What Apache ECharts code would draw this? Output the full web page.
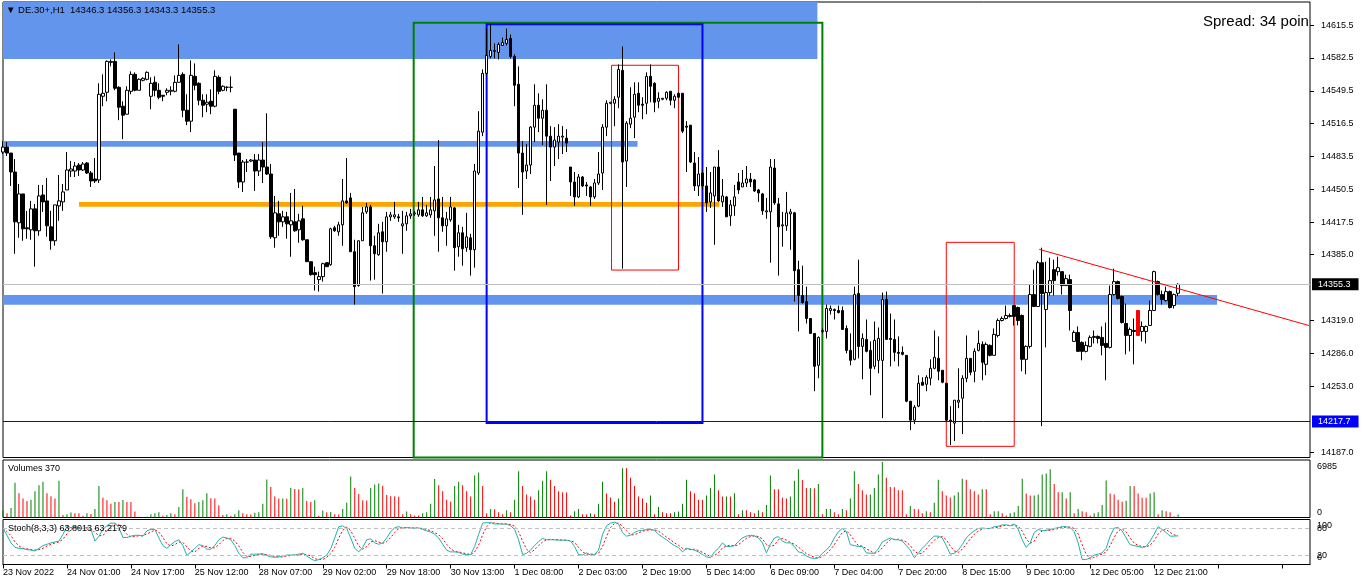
<!DOCTYPE html>
<html><head><meta charset="utf-8">
<script src="https://cdn.jsdelivr.net/npm/echarts@6/dist/echarts.min.js"></script>
<style>html,body{margin:0;padding:0;background:#fff}#c{width:1362px;height:585px}</style>
</head><body><div id="c"></div>
<script>
const symbolName = 'DE.30+';
const timeframe = 'H1';
const spreadText = 'Spread: 34 poin';
const openP = [
14488,14493,14487,14468,14417,14446,14412,14410,14431,14409,14445,14439,14413,14399,14434,14438,14450,14469,14469,14475,
14470,14477,14467,14461,14460,14544,14548,14578,14579,14553,14534,14526,14549,14566,14550,14560,14561,14544,14558,14550,
14545,14548,14549,14549,14558,14566,14530,14519,14564,14557,14540,14536,14539,14534,14563,14550,14553,14553,14531,14487,
14458,14478,14479,14480,14469,14480,14473,14466,14402,14426,14418,14423,14415,14418,14410,14421,14400,14378,14367,14360,
14363,14377,14375,14412,14408,14415,14439,14442,14388,14354,14399,14428,14433,14394,14385,14408,14398,14423,14423,14423,
14414,14416,14424,14426,14425,14430,14424,14425,14429,14441,14422,14414,14420,14432,14393,14407,14392,14402,14390,14467,
14508,14567,14584,14589,14588,14595,14597,14602,14584,14556,14487,14469,14475,14513,14535,14522,14530,14504,14493,14498,
14503,14502,14473,14458,14443,14463,14455,14453,14443,14457,14467,14513,14537,14537,14543,14570,14479,14516,14523,14547,
14536,14537,14564,14557,14539,14541,14542,14549,14540,14547,14547,14514,14515,14477,14454,14467,14454,14438,14444,14473,
14438,14443,14424,14434,14458,14453,14457,14461,14460,14450,14446,14428,14428,14472,14436,14414,14414,14426,14427,14370,
14344,14338,14321,14306,14274,14308,14308,14329,14330,14329,14329,14311,14289,14280,14346,14293,14300,14289,14273,14279,
14279,14340,14301,14300,14287,14287,14284,14238,14219,14233,14257,14255,14261,14271,14281,14269,14256,14219,14216,14237,
14241,14261,14281,14268,14289,14295,14275,14294,14284,14304,14319,14321,14323,14334,14332,14324,14280,14293,14345,14333,
14377,14330,14347,14370,14368,14368,14354,14360,14298,14307,14297,14288,14293,14302,14303,14302,14296,14292,14345,14358,
14343,14316,14304,14309,14329,14308,14308,14314,14329,14358,14345,14339,14348,14334,14346.3];
const highP = [
14499,14498,14487,14481,14456,14446,14429,14439,14436,14455,14455,14462,14429,14435,14465,14456,14488,14479,14478,14477,
14478,14478,14469,14482,14557,14566,14580,14581,14588,14554,14539,14554,14569,14568,14562,14563,14569,14563,14564,14557,
14545,14552,14554,14565,14596,14568,14546,14580,14577,14558,14546,14546,14551,14570,14565,14555,14554,14564,14531,14487,
14480,14481,14481,14486,14486,14498,14527,14476,14444,14439,14429,14428,14447,14451,14426,14434,14400,14378,14373,14368,
14377,14377,14412,14414,14418,14461,14482,14447,14400,14399,14433,14437,14435,14404,14416,14418,14428,14428,14438,14426,
14429,14428,14431,14429,14438,14443,14435,14443,14474,14500,14443,14428,14443,14433,14415,14413,14427,14406,14476,14529,
14571,14612,14616,14597,14598,14603,14612,14606,14586,14574,14499,14496,14514,14556,14547,14541,14556,14514,14513,14516,
14514,14511,14473,14468,14466,14464,14458,14454,14461,14488,14516,14540,14538,14544,14576,14594,14519,14553,14558,14558,
14543,14568,14576,14558,14548,14542,14549,14549,14546,14548,14547,14519,14515,14488,14483,14470,14473,14468,14473,14490,
14461,14444,14440,14455,14467,14470,14474,14467,14461,14451,14447,14442,14481,14481,14442,14428,14448,14431,14428,14379,
14374,14353,14321,14306,14303,14311,14335,14334,14331,14334,14333,14314,14306,14353,14380,14306,14320,14298,14318,14312,
14347,14348,14326,14320,14303,14293,14284,14238,14234,14264,14262,14264,14280,14309,14303,14269,14256,14233,14239,14271,
14264,14304,14281,14291,14309,14298,14297,14295,14311,14321,14323,14334,14326,14334,14333,14325,14294,14355,14370,14379,
14392,14378,14382,14380,14383,14368,14365,14365,14309,14313,14298,14298,14304,14309,14304,14313,14317,14354,14371,14359,
14344,14336,14312,14321,14329,14318,14314,14339,14369,14359,14349,14353,14349,14346,14356.3];
const lowP = [
14486,14484,14454,14386,14402,14399,14401,14400,14373,14404,14428,14403,14390,14394,14419,14429,14450,14463,14463,14464,
14469,14466,14453,14457,14457,14534,14539,14574,14550,14520,14501,14526,14546,14549,14550,14559,14560,14531,14544,14541,
14539,14545,14545,14548,14558,14523,14515,14508,14550,14535,14523,14528,14526,14533,14546,14549,14549,14548,14479,14452,
14448,14468,14478,14449,14464,14457,14465,14401,14392,14404,14413,14401,14383,14408,14397,14399,14378,14364,14349,14348,
14358,14373,14374,14408,14404,14394,14436,14388,14335,14353,14399,14426,14359,14360,14384,14346,14388,14419,14421,14418,
14386,14409,14421,14424,14423,14423,14423,14422,14404,14388,14408,14394,14418,14369,14383,14374,14388,14364,14372,14465,
14504,14565,14582,14582,14581,14595,14595,14582,14534,14452,14425,14461,14466,14498,14508,14495,14435,14459,14474,14481,
14486,14488,14444,14434,14442,14453,14444,14434,14441,14455,14450,14504,14536,14514,14532,14371,14453,14512,14502,14528,
14521,14526,14538,14528,14532,14540,14540,14535,14532,14542,14507,14468,14477,14449,14444,14450,14428,14432,14395,14438,
14433,14423,14414,14424,14446,14453,14453,14453,14448,14438,14425,14421,14377,14435,14364,14393,14409,14390,14338,14308,
14336,14316,14306,14248,14261,14306,14301,14325,14320,14326,14310,14286,14274,14279,14281,14260,14287,14244,14270,14266,
14221,14300,14273,14278,14273,14284,14237,14209,14215,14232,14254,14248,14254,14270,14259,14256,14217,14194,14198,14231,
14205,14257,14264,14257,14288,14259,14264,14283,14284,14302,14318,14320,14322,14314,14314,14268,14265,14291,14333,14333,
14213,14292,14344,14344,14364,14345,14354,14309,14298,14288,14279,14287,14292,14296,14296,14284,14259,14291,14344,14340,
14316,14285,14288,14275,14304,14298,14296,14314,14329,14344,14335,14338,14331,14331,14343.3];
const closeP = [
14493,14487,14468,14418,14446,14411,14411,14431,14409,14444,14438,14414,14399,14435,14439,14448,14470,14471,14474,14470,
14476,14467,14459,14459,14546,14547,14579,14579,14552,14533,14525,14550,14566,14550,14561,14562,14568,14557,14550,14543,
14544,14550,14550,14558,14565,14530,14519,14565,14555,14540,14535,14538,14534,14564,14549,14554,14553,14553,14485,14458,
14478,14478,14480,14469,14480,14473,14466,14403,14427,14418,14423,14416,14419,14409,14419,14400,14378,14365,14365,14363,
14376,14373,14411,14409,14415,14439,14437,14388,14353,14399,14427,14433,14394,14386,14407,14398,14423,14425,14425,14422,
14416,14424,14426,14427,14430,14424,14427,14430,14440,14422,14414,14421,14433,14392,14407,14391,14403,14390,14469,14509,
14567,14585,14590,14590,14596,14598,14601,14584,14555,14487,14468,14475,14513,14535,14522,14530,14504,14493,14500,14504,
14504,14497,14458,14443,14463,14454,14454,14443,14457,14466,14513,14537,14538,14541,14571,14478,14517,14522,14546,14535,
14535,14564,14554,14538,14542,14542,14548,14540,14544,14543,14509,14513,14478,14454,14466,14454,14437,14447,14473,14439,
14444,14423,14435,14443,14450,14457,14461,14458,14449,14447,14429,14429,14473,14437,14413,14415,14427,14428,14369,14344,
14337,14321,14306,14273,14302,14309,14331,14331,14329,14327,14310,14289,14279,14345,14293,14301,14288,14271,14299,14301,
14340,14300,14300,14287,14286,14285,14238,14219,14232,14256,14254,14262,14271,14282,14268,14257,14219,14218,14239,14239,
14261,14281,14267,14288,14296,14277,14295,14284,14305,14319,14321,14324,14324,14323,14319,14280,14293,14345,14333,14377,
14346,14347,14359,14359,14372,14354,14361,14329,14307,14288,14288,14294,14302,14303,14301,14294,14292,14345,14358,14341,
14317,14304,14310,14308,14304,14313,14313,14329,14368,14345,14340,14348,14332,14345,14355.3];
const volumes = [
880,530,1190,4360,3040,2380,2070,2240,3300,4050,4490,3040,2680,2380,4620,300,400,620,530,530,
220,530,440,1060,3960,2500,2160,1720,1940,1940,2200,1940,1940,750,100,50,90,400,530,660,
220,310,530,400,1320,3560,2600,2290,1800,1940,2160,3040,2420,2380,1540,300,400,200,400,920,
530,400,390,600,660,1720,4800,3830,2640,2380,2400,2350,3700,3600,3550,3700,2070,1940,2160,220,
880,660,700,400,380,1060,1850,5150,3700,2950,2160,2150,3700,4140,4270,4000,2820,2680,2670,2600,
400,750,400,260,250,530,660,1720,4840,4050,3300,2240,1980,3960,4490,4050,3300,2640,5280,5680,
3960,530,1060,1050,660,400,920,660,2240,5810,3960,2900,2640,2240,3430,4620,5810,4750,3960,3300,
3170,3160,260,790,1060,400,390,530,400,1720,4490,3030,2510,1980,2380,6200,6190,5020,3960,2640,
2380,1850,2770,400,1320,660,530,520,660,750,1720,4750,3300,3040,2240,2230,2770,3700,5410,3430,
2640,2650,2640,3040,400,920,910,660,530,920,660,1580,5280,3560,3550,2500,2380,2640,4620,6070,
4710,3700,3710,3690,4220,400,1060,1070,660,400,1060,920,2380,5810,4220,3430,2900,2910,3700,5410,
6985,5020,3830,3820,3430,3420,400,1450,1060,1050,530,790,660,1850,4750,3300,2770,2510,2770,3170,
4880,4750,3560,3300,2900,3560,3550,400,790,800,530,260,530,660,1450,4880,3030,2770,2780,2900,
5410,5540,6070,4220,3170,3180,2380,3170,530,1060,790,660,260,530,660,1580,4660,3030,2900,2240,
1980,2110,3960,3950,3030,2500,2490,3030,3170,400,920,790,660,130,370];
const stochK = [
80,65,48,38,36,35,33,32,30,36,42,45,48,50,52,67,85,82,84,80,
80,82,78,52,63,78,86,92,92,82,60,60,63,65,65,63,75,78,78,59,
42,36,44,51,55,42,20,28,36,44,42,34,34,42,55,61,59,55,42,25,
15,15,23,23,23,24,20,17,16,17,19,21,21,21,23,25,19,13,8,11,
15,21,35,59,84,86,80,59,36,28,38,55,57,48,45,48,59,73,82,84,
81,82,81,81,81,78,75,72,67,59,45,32,28,28,27,23,22,22,40,67,
92,93,93,90,90,90,90,86,78,55,22,25,32,42,51,58,55,55,55,54,
54,54,52,40,22,21,26,21,22,32,67,86,92,94,90,71,63,65,71,75,
76,78,78,76,67,61,55,48,42,38,28,36,34,32,28,22,17,15,28,36,
48,40,40,42,51,59,63,65,63,59,48,26,45,59,62,52,48,48,40,28,
26,19,15,13,15,25,32,42,59,73,80,73,44,42,40,40,26,25,25,35,
50,55,59,55,55,52,42,32,15,25,36,45,55,63,63,59,42,23,25,32,
44,59,68,75,80,81,80,80,84,85,88,88,86,90,78,55,38,48,71,78,
75,76,78,80,82,84,84,82,73,48,11,11,15,21,23,26,36,63,81,82,
75,59,44,42,40,38,40,52,67,84,78,71,63,63,63.8013];
const stochD = [
80,73,64,50,41,36,35,33,32,33,36,41,45,48,50,56,68,78,84,82,
80,81,80,71,64,64,76,85,90,89,78,67,61,62,64,64,68,72,77,72,
60,46,41,44,50,49,39,30,28,36,41,40,37,37,44,53,58,58,52,41,
27,18,18,20,23,23,22,20,18,17,17,19,20,21,22,23,22,19,13,11,
11,16,24,38,59,76,83,75,58,41,34,40,50,53,50,47,51,60,71,80,
82,82,81,81,81,80,78,75,71,66,57,45,35,29,28,26,24,22,28,43,
66,84,93,92,91,90,90,89,85,73,52,34,26,33,42,50,55,56,55,55,
54,54,53,49,38,28,23,23,23,25,40,62,82,91,92,85,75,66,66,70,
74,76,77,77,74,68,61,55,48,43,36,34,33,34,31,27,22,18,20,26,
37,41,43,41,44,51,58,62,64,62,57,44,40,43,55,58,54,49,45,39,
31,24,20,16,14,18,24,33,44,58,71,75,66,53,42,41,35,30,25,28,
37,47,55,56,56,54,50,42,30,24,25,35,45,54,60,62,55,41,30,27,
34,45,57,67,74,79,80,80,81,83,86,87,87,88,85,74,57,47,52,66,
75,76,76,78,80,82,83,83,80,68,44,23,12,16,20,23,28,42,60,75,
79,72,59,48,42,40,39,43,53,68,76,78,71,66,63.2179];
const tickLabels = ['23 Nov 2022','24 Nov 01:00','24 Nov 17:00','25 Nov 12:00','28 Nov 07:00','29 Nov 02:00','29 Nov 18:00','30 Nov 13:00','1 Dec 08:00','2 Dec 03:00','2 Dec 19:00','5 Dec 14:00','6 Dec 09:00','7 Dec 04:00','7 Dec 20:00','8 Dec 15:00','9 Dec 10:00','12 Dec 05:00','12 Dec 21:00'];
const priceTicks = [14615.5,14582.5,14549.5,14516.5,14483.5,14450.5,14417.5,14385.0,14319.0,14286.0,14253.0,14187.0];
const volumeTopTick = [6985];
const volumeBottomTick = [0];
const stochLevels = [80, 20];
const stochEdgeTicks = [100, 0];
const currentPrice = 14355.3;
const blueLevel = 14217.7;
const redBarIndex = 284;
const labelEvery = 16;

// drawing objects (in bar-index / price units)
const yMin = 14181.5, yMax = 14638.6;
const bands = [
  {x:[0,203.75], y:[14581.4,yMax], color:'#6495ED'},
  {x:[0,158.75], y:[14493.4,14499.1], color:'#6495ED'},
  {x:[19,179.25], y:[14433.2,14437.9], color:'#FFA500'},
  {x:[0,303.75], y:[14334.8,14344.6], color:'#6495ED'}
];
const boxes = [
  {x:[102.75,205], y:[yMin,14617.8], color:'#008000', w:2},
  {x:[121,175], y:[14216.1,14616.2], color:'#0000FF', w:2},
  {x:[152.25,169], y:[14369.6,14575.1], color:'#FF0000', w:1},
  {x:[236,253], y:[14192.7,14397.4], color:'#FF0000', w:1}
];
const trendLine = [[259.25,14390.4],[326.75,14313.9]];

const SLOTS = 328;
const FONT = "'Liberation Sans','DejaVu Sans',sans-serif";
const GREEN = '#008000', RED = '#FF0000';
const N = openP.length;
const cats = Array.from({length: SLOTS}, (_, i) => String(i));

const candleData = openP.map((o, i) => {
  const v = [o, closeP[i], lowP[i], highP[i]];
  return i === redBarIndex ? {value: v, itemStyle: {color: RED, color0: RED, borderColor: RED, borderColor0: RED}} : v;
});
const volData = volumes.map((v, i) => ({value: v, itemStyle: {color: (i === 0 || v > volumes[i - 1]) ? GREEN : RED}}));

const gridBase = {left: 3, right: 52, show: true, borderColor: '#000', borderWidth: 1, backgroundColor: '#fff'};
const catAxis = (gi, showLabels) => ({
  type: 'category', gridIndex: gi, data: cats, boundaryGap: false,
  axisLine: {show: showLabels, lineStyle: {color: '#000'}},
  axisTick: {show: showLabels, interval: labelEvery - 1, length: 4, lineStyle: {color: '#000'}},
  axisLabel: {show: showLabels, interval: labelEvery - 1, align: 'left', margin: 4, fontSize: 9, color: '#000', fontFamily: FONT,
    formatter: (v, idx) => tickLabels[Math.round(idx / labelEvery)] || ''},
  splitLine: {show: false}
});
const sideAxis = (gi, min, max, label, tick) => ({
  type: 'value', gridIndex: gi, position: 'right', min: min, max: max,
  axisLine: {show: false, onZero: false}, splitLine: {show: false},
  axisTick: tick || {show: false},
  axisLabel: Object.assign({fontSize: 9, color: '#000', fontFamily: FONT, formatter: v => String(v)}, label)
});

const header = '\u25BC ' + symbolName + ',' + timeframe + '  ' + [openP[N-1], highP[N-1], lowP[N-1], closeP[N-1]].map(v => v.toFixed(1)).join(' ');

const option = {
  animation: false,
  backgroundColor: '#fff',
  textStyle: {fontFamily: FONT},
  grid: [
    Object.assign({top: 2, height: 455.5}, gridBase),
    Object.assign({top: 460, height: 57.5}, gridBase),
    Object.assign({top: 519.5, height: 45}, gridBase)
  ],
  xAxis: [
    catAxis(0, false), catAxis(1, false), catAxis(2, true),
    {type: 'value', gridIndex: 0, min: 0, max: SLOTS - 1, show: false, axisLine: {onZero: false}}
  ],
  yAxis: [
    sideAxis(0, yMin, yMax, {customValues: priceTicks, margin: 11, formatter: v => Number(v).toFixed(1)},
      {show: true, length: 4, customValues: priceTicks, lineStyle: {color: '#000'}}),
    sideAxis(1, 0, 7240, {customValues: volumeTopTick, verticalAlign: 'top', margin: 7}),
    sideAxis(1, 0, 7240, {customValues: volumeBottomTick, verticalAlign: 'bottom', margin: 7}),
    sideAxis(2, 0, 100, {customValues: stochLevels, margin: 7}),
    sideAxis(2, 0, 100, {customValues: stochEdgeTicks, margin: 7,
      formatter: v => (v >= 50 ? '{t|' + v + '}' : '{b|' + v + '}'),
      rich: {t: {padding: [13, 0, 0, 0], fontSize: 9, color: '#000'}, b: {padding: [0, 0, 13, 0], fontSize: 9, color: '#000'}}})
  ],
  series: [
    {type: 'line', xAxisIndex: 3, yAxisIndex: 0, data: [], silent: true, z: 1,
      markArea: {silent: true, data: bands.map(b => [{coord: [b.x[0], b.y[0]], itemStyle: {color: b.color, opacity: 1}}, {coord: [b.x[1], b.y[1]]}])},
      markLine: {silent: true, symbol: ['none', 'none'], animation: false, data: [
        {yAxis: currentPrice, lineStyle: {color: '#C0C0C0', width: 1, type: 'solid'},
          label: {show: true, position: 'end', distance: 2, formatter: currentPrice.toFixed(1), backgroundColor: '#000', color: '#fff', padding: [2, 8, 1, 6], fontSize: 9, fontFamily: FONT}},
        {yAxis: blueLevel, lineStyle: {color: '#0000FF', width: 1, type: 'solid'},
          label: {show: true, position: 'end', distance: 2, formatter: blueLevel.toFixed(1), backgroundColor: '#0000FF', color: '#fff', padding: [2, 8, 1, 6], fontSize: 9, fontFamily: FONT}}
      ]}},
    {type: 'candlestick', xAxisIndex: 0, yAxisIndex: 0, data: candleData, barWidth: 3, z: 3,
      itemStyle: {color: '#fff', color0: '#000', borderColor: '#000', borderColor0: '#000', borderWidth: 1}},
    {type: 'line', xAxisIndex: 3, yAxisIndex: 0, data: [], silent: true, z: 5,
      markArea: {silent: true, data: boxes.map(b => [{coord: [b.x[0], b.y[0]], itemStyle: {color: 'rgba(0,0,0,0)', borderColor: b.color, borderWidth: b.w, opacity: 1}}, {coord: [b.x[1], b.y[1]]}])},
      markLine: {silent: true, symbol: ['none', 'none'], animation: false, label: {show: false},
        data: [[{coord: trendLine[0]}, {coord: trendLine[1]}]], lineStyle: {color: '#FF0000', width: 1, type: 'solid'}}},
    {type: 'bar', xAxisIndex: 1, yAxisIndex: 1, data: volData, barWidth: 1, silent: true},
    {type: 'line', xAxisIndex: 2, yAxisIndex: 3, data: stochK, symbol: 'none', silent: true, z: 4,
      lineStyle: {color: '#20B2AA', width: 1},
      markLine: {silent: true, symbol: ['none', 'none'], label: {show: false},
        lineStyle: {color: '#C0C0C0', type: [4, 3], width: 1}, data: stochLevels.map(v => ({yAxis: v}))}},
    {type: 'line', xAxisIndex: 2, yAxisIndex: 3, data: stochD, symbol: 'none', silent: true, z: 3,
      lineStyle: {color: '#FF0000', width: 1, type: [2, 2]}}
  ],
  graphic: [
    {type: 'text', left: 6, top: 5, z: 100, style: {text: header, font: '9.5px ' + FONT, fill: '#000'}},
    {type: 'text', left: 1203, top: 14, z: 100, style: {text: spreadText, font: '15px ' + FONT, fill: '#000'}},
    {type: 'text', left: 8, top: 464, z: 100, style: {text: 'Volumes ' + volumes[N-1], font: '9px ' + FONT, fill: '#000'}},
    {type: 'text', left: 8, top: 524, z: 100, style: {text: 'Stoch(8,3,3) ' + stochK[N-1].toFixed(4) + ' ' + stochD[N-1].toFixed(4), font: '9px ' + FONT, fill: '#000'}}
  ]
};
const chart = echarts.init(document.getElementById('c'), null, {renderer: 'canvas'});
chart.setOption(option);
</script>
</body></html>
